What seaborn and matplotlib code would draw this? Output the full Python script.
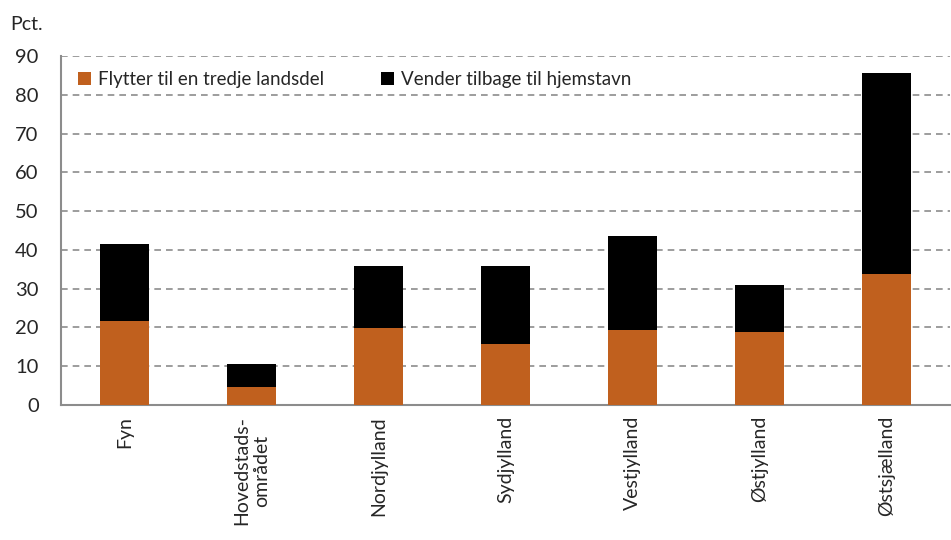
import pandas as pd
import seaborn as sns
import matplotlib.pyplot as plt
from matplotlib.ticker import MultipleLocator, FixedLocator

# data
regions = ["Fyn", "Hovedstads-\nområdet", "Nordjylland", "Sydjylland",
           "Vestjylland", "Østjylland", "Østsjælland"]
tredje = [21.6, 4.6, 19.9, 15.7, 19.3, 18.8, 33.8]
hjemstavn = [19.9, 6.0, 15.9, 20.1, 24.3, 12.1, 51.8]

df = pd.DataFrame({"region": regions, "tredje": tredje, "hjemstavn": hjemstavn})
df["total"] = df["tredje"] + df["hjemstavn"]

sns.set_style("white")
plt.rcParams["font.family"] = ["Lato", "DejaVu Sans"]

fig = plt.figure(figsize=(9.51, 5.40), dpi=100)
ax = fig.add_axes([0.064, 0.25, 0.935, 0.646])

orange = "#C0601E"
sns.barplot(data=df, x="region", y="total", color="black", width=0.39,
            saturation=1, linewidth=0, ax=ax,
            label="Vender tilbage til hjemstavn", zorder=3)
sns.barplot(data=df, x="region", y="tredje", color=orange, width=0.39,
            saturation=1, linewidth=0, ax=ax,
            label="Flytter til en tredje landsdel", zorder=3)

ax.set_ylim(0, 90)
ax.set_xlim(-0.5, 6.5)
ax.yaxis.set_major_locator(MultipleLocator(10))
ax.grid(axis="y", color="#8c8c8c", linestyle=(0, (4, 3)), linewidth=1.2, zorder=0)
ax.set_axisbelow(True)
ax.set_xlabel("")
ax.set_ylabel("")

for s in ["top", "right"]:
    ax.spines[s].set_visible(False)
for s in ["left", "bottom"]:
    ax.spines[s].set_color("#8c8c8c")
    ax.spines[s].set_linewidth(1.5)

ax.tick_params(axis="y", labelsize=14.5, length=6, width=1.2, color="#8c8c8c", pad=10)
ax.tick_params(axis="x", which="major", labelsize=14, length=0, rotation=90, pad=8)
ax.xaxis.set_minor_locator(FixedLocator([i - 0.5 for i in range(8)]))
ax.tick_params(axis="x", which="minor", length=6, color="#8c8c8c", width=1.2)
for lab in ax.get_xticklabels():
    lab.set_verticalalignment("top")
    lab.set_multialignment("center")

handles, labels = ax.get_legend_handles_labels()
order = [labels.index("Flytter til en tredje landsdel"),
         labels.index("Vender tilbage til hjemstavn")]
ax.legend([handles[i] for i in order], [labels[i] for i in order],
          loc="upper left", bbox_to_anchor=(0.0, 1.005), ncol=2, frameon=False,
          fontsize=13.5, handlelength=0.7, handleheight=0.7, handletextpad=0.4,
          columnspacing=3.0)

fig.text(0.011, 0.955, "Pct.", fontsize=14, ha="left", va="center")

fig.savefig("out.png", dpi=100, facecolor="white")
